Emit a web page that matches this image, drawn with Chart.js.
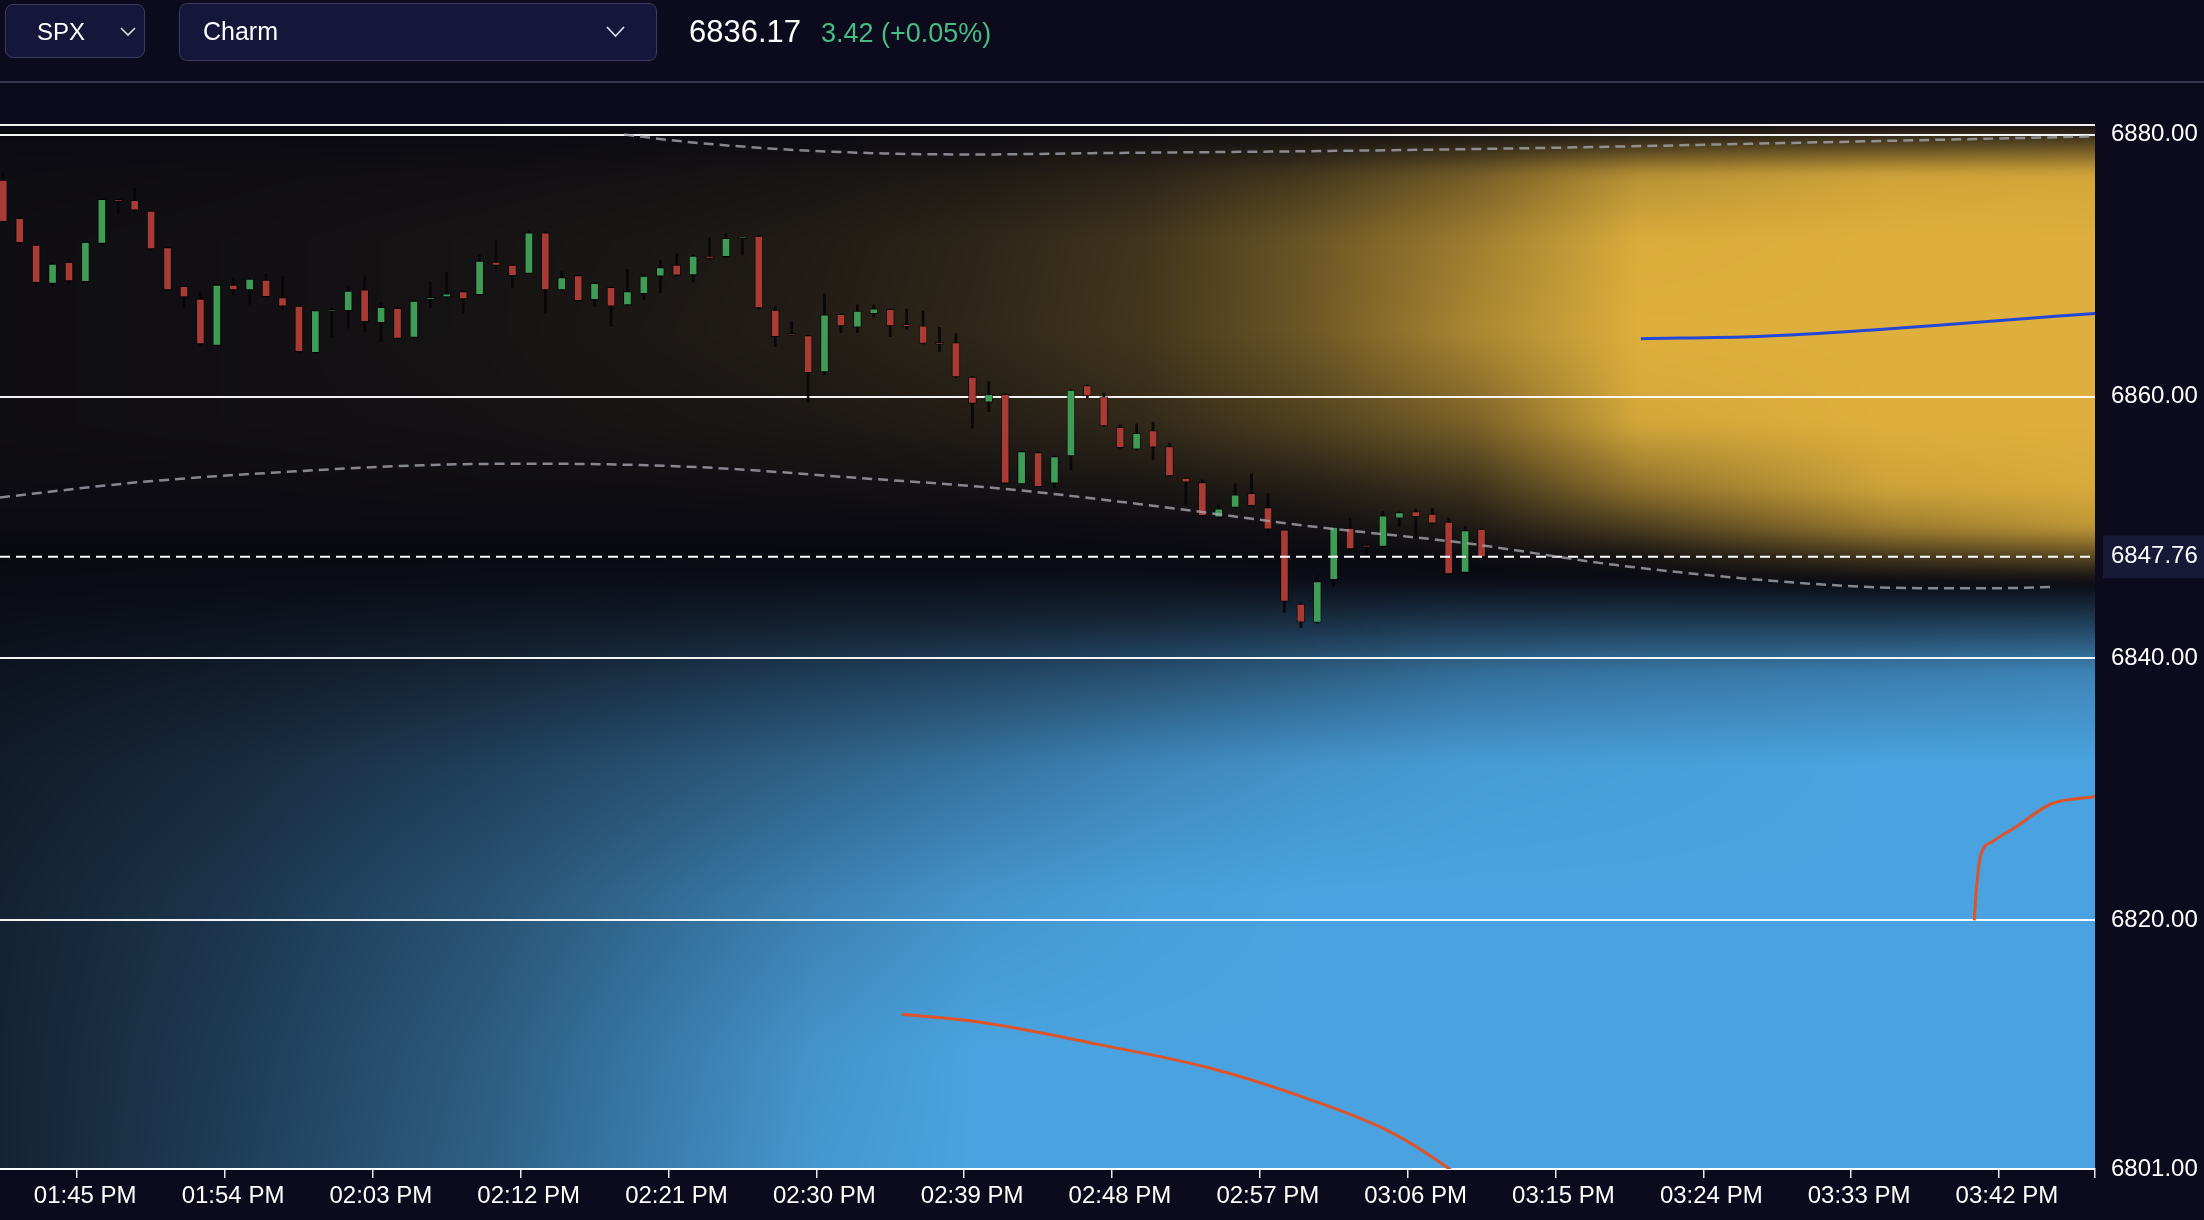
<!DOCTYPE html>
<html>
<head>
<meta charset="utf-8">
<title>SPX Charm</title>
<script src="https://cdn.jsdelivr.net/npm/chart.js@4.4.1/dist/chart.umd.min.js"></script>
<style>
  html, body { margin: 0; padding: 0; background: #0b0b1d; overflow: hidden; }
  body { width: 2204px; height: 1220px; position: relative; font-family: "Liberation Sans", Arial, sans-serif; color: #fff; }
  #chart { position: absolute; left: 0; top: 0; }
  .topbar { position: absolute; left: 0; top: 0; width: 2204px; height: 81px; border-bottom: 2px solid #343650; }
  .select { position: absolute; box-sizing: border-box; background: #15163a; border: 1.5px solid #3a3c5e; border-radius: 8px; }
  #sym { left: 5px; top: 4px; width: 140px; height: 54px; }
  #metric { left: 179px; top: 3px; width: 478px; height: 58px; }
  .txt { position: absolute; line-height: 1; white-space: nowrap; }
  svg.chev { position: absolute; }
</style>
</head>
<body>
<canvas id="chart" width="2204" height="1220"></canvas>

<div class="topbar">
  <div class="select" id="sym"></div>
  <div class="select" id="metric"></div>
  <span class="txt" style="left:37px; top:20px; font-size:24px;">SPX</span>
  <svg class="chev" style="left:119px; top:26px;" width="18" height="11"><polyline points="2,2 9,9 16,2" fill="none" stroke="#d9d9e3" stroke-width="1.6"/></svg>
  <span class="txt" style="left:203px; top:19px; font-size:25px;">Charm</span>
  <svg class="chev" style="left:605px; top:25px;" width="21" height="14"><polyline points="2,2 10.5,11 19,2" fill="none" stroke="#d9d9e3" stroke-width="1.8"/></svg>
  <span class="txt" style="left:689px; top:16px; font-size:31px;">6836.17</span>
  <span class="txt" style="left:821px; top:20px; font-size:27px; color:#47bd84;">3.42 (+0.05%)</span>
</div>

<script>
// -----------------------------
// DATA
// -----------------------------
const candleStart = 820; // 01:40 PM, minutes after midnight, one candle per minute

const opens = [
  6876.54, 6873.62, 6871.58, 6868.65, 6870.26, 6868.78, 6871.71, 6875.04, 6874.99, 6874.18,
  6871.38, 6868.43, 6867.46, 6863.92, 6868.53, 6868.15, 6868.91, 6867.56, 6866.92, 6863.36,
  6866.52, 6866.57, 6868.15, 6865.65, 6866.75, 6864.53, 6867.43, 6867.61, 6868.02, 6867.79,
  6870.28, 6870.05, 6869.42, 6872.52, 6868.15, 6869.24, 6867.41, 6868.35, 6867.00, 6867.86,
  6869.21, 6870.05, 6869.29, 6870.74, 6870.69, 6872.06, 6872.27, 6866.62, 6864.71, 6864.66,
  6861.89, 6866.29, 6865.30, 6866.34, 6866.67, 6865.53, 6865.40, 6864.15, 6864.13, 6861.50,
  6859.57, 6860.18, 6853.34, 6855.73, 6853.39, 6855.47, 6860.84, 6860.00, 6857.66, 6855.98,
  6857.41, 6856.19, 6853.77, 6853.44, 6850.79, 6851.53, 6852.62, 6851.53, 6849.83, 6844.15,
  6842.75, 6846.01, 6849.95, 6848.63, 6848.55, 6850.72, 6851.22, 6851.02, 6850.41, 6846.57,
  6849.88
];
const highs = [
  6877.13, 6873.70, 6871.62, 6870.20, 6870.51, 6871.82, 6875.10, 6875.10, 6875.91, 6874.22,
  6871.42, 6868.50, 6868.02, 6868.60, 6869.04, 6869.00, 6869.42, 6869.16, 6867.00, 6866.62,
  6866.75, 6868.45, 6869.24, 6867.18, 6866.80, 6867.35, 6868.73, 6869.47, 6868.10, 6870.82,
  6871.96, 6870.10, 6872.72, 6872.60, 6869.54, 6869.30, 6868.70, 6868.40, 6869.72, 6869.30,
  6870.43, 6870.89, 6870.80, 6872.14, 6872.42, 6872.17, 6872.30, 6866.87, 6865.73, 6864.70,
  6867.84, 6866.32, 6867.00, 6867.00, 6866.70, 6866.70, 6866.54, 6865.30, 6864.79, 6861.55,
  6861.15, 6860.22, 6855.86, 6855.78, 6855.46, 6860.56, 6860.89, 6860.26, 6857.84, 6857.92,
  6858.04, 6856.44, 6853.80, 6853.64, 6851.73, 6853.34, 6854.10, 6852.62, 6849.88, 6844.28,
  6846.39, 6850.08, 6850.72, 6848.68, 6851.22, 6851.20, 6851.40, 6851.48, 6850.72, 6850.08,
  6849.92
];
const lows = [
  6873.30, 6871.70, 6868.53, 6868.40, 6868.60, 6868.72, 6871.58, 6874.05, 6874.05, 6871.22,
  6868.10, 6866.80, 6863.87, 6863.85, 6867.77, 6867.05, 6867.60, 6866.62, 6863.36, 6863.30,
  6864.58, 6865.22, 6864.97, 6864.20, 6864.40, 6864.48, 6866.82, 6867.58, 6866.36, 6867.72,
  6869.80, 6868.35, 6869.38, 6866.41, 6868.10, 6867.30, 6866.87, 6865.35, 6866.95, 6867.38,
  6867.94, 6869.22, 6868.73, 6870.50, 6870.62, 6870.82, 6866.70, 6863.82, 6864.68, 6859.55,
  6861.66, 6864.89, 6864.89, 6866.11, 6864.58, 6865.14, 6864.02, 6863.44, 6861.45, 6857.59,
  6858.86, 6853.33, 6853.28, 6853.10, 6853.00, 6854.41, 6859.88, 6857.72, 6856.05, 6855.92,
  6855.17, 6853.90, 6851.73, 6850.86, 6850.64, 6851.48, 6851.62, 6849.62, 6843.52, 6842.37,
  6842.70, 6845.50, 6848.09, 6847.49, 6848.50, 6850.08, 6849.19, 6850.28, 6846.31, 6846.50,
  6847.70
];
const closes = [
  6873.36, 6871.76, 6868.71, 6870.13, 6868.83, 6871.78, 6875.07, 6874.91, 6874.25, 6871.28,
  6868.15, 6867.61, 6864.02, 6868.53, 6868.15, 6868.98, 6867.64, 6866.92, 6863.44, 6866.57,
  6866.59, 6868.07, 6865.73, 6866.82, 6864.45, 6867.30, 6867.59, 6867.86, 6867.46, 6870.36,
  6870.03, 6869.24, 6872.52, 6868.15, 6869.09, 6867.33, 6868.65, 6866.92, 6868.02, 6869.21,
  6869.85, 6869.27, 6870.74, 6870.56, 6872.09, 6872.11, 6866.77, 6864.58, 6864.69, 6861.83,
  6866.24, 6865.40, 6866.54, 6866.70, 6865.40, 6865.35, 6864.07, 6863.98, 6861.50, 6859.49,
  6860.18, 6853.39, 6855.80, 6853.13, 6855.42, 6860.51, 6860.05, 6857.76, 6856.11, 6857.20,
  6856.14, 6853.95, 6853.46, 6850.91, 6851.43, 6852.50, 6851.68, 6849.88, 6844.35, 6842.78,
  6845.88, 6850.03, 6848.37, 6848.50, 6850.89, 6851.15, 6850.84, 6850.33, 6846.47, 6849.77,
  6847.76
];

const lastPrice = 6847.76;

// overlay curves (time in minutes after midnight)
const upperBandTimes = [858.3, 861.5, 867.1, 874.0, 879.8, 886.8, 900.0, 914.4, 931.5, 947.9];
const upperBandVals  = [6880.03, 6879.54, 6878.96, 6878.58, 6878.50, 6878.60, 6878.75, 6879.00, 6879.44, 6879.88];

const midBandTimes = [820.3, 828.9, 837.4, 846.0, 852.8, 862.9, 872.2, 881.5, 890.9, 900.2, 909.5, 918.6, 925.6, 932.6, 937.2, 941.9, 945.4];
const midBandVals  = [6852.30, 6853.48, 6854.23, 6854.76, 6854.88, 6854.61, 6853.82, 6852.95, 6851.60, 6850.08, 6848.81, 6847.15, 6846.21, 6845.55, 6845.37, 6845.37, 6845.47];

const callWallTimes = [920.2, 927.3, 934.1, 940.9, 947.9];
const callWallVals  = [6864.43, 6864.59, 6865.07, 6865.71, 6866.36];

const putWallTimes = [875.2, 880.2, 887.0, 893.9, 899.9, 905.0, 908.4, 910.5];
const putWallVals  = [6812.82, 6812.17, 6810.56, 6808.73, 6806.37, 6803.80, 6801.13, 6799.00];

const putWall2Times = [940.5, 940.65, 940.9, 941.6, 943.1, 945.2, 947.9];
const putWall2Vals  = [6820.00, 6822.69, 6825.00, 6826.00, 6827.19, 6828.90, 6829.44];

// charm heatmap: columns = time, rows = price (positive gold, negative blue)
const heatTimes  = [820.3, 835, 850, 860, 870, 880, 890, 900, 910, 920, 935, 948];
const heatPrices = [6881, 6879.5, 6877, 6872, 6865, 6858, 6853, 6850, 6848, 6846, 6843, 6839, 6832, 6822, 6810, 6800];
const heatCharm = [
  [0, 0.01, 0.02, 0.03, 0.03, 0.03, 0.02, 0.01, 0, -0.01, -0.04, -0.07, -0.12, -0.16, -0.17, -0.17],
  [0, 0.01, 0.03, 0.04, 0.04, 0.04, 0.02, 0.01, 0, -0.02, -0.06, -0.12, -0.22, -0.29, -0.33, -0.35],
  [0, 0.01, 0.04, 0.06, 0.06, 0.05, 0.03, 0.01, 0, -0.03, -0.09, -0.19, -0.35, -0.47, -0.54, -0.57],
  [0, 0.02, 0.05, 0.08, 0.09, 0.07, 0.03, 0.01, 0, -0.03, -0.11, -0.25, -0.46, -0.62, -0.72, -0.75],
  [0, 0.02, 0.07, 0.11, 0.12, 0.09, 0.04, 0.01, 0, -0.04, -0.14, -0.32, -0.57, -0.77, -0.90, -0.93],
  [0, 0.03, 0.10, 0.17, 0.18, 0.12, 0.05, 0.01, 0, -0.04, -0.16, -0.38, -0.68, -0.90, -1, -1],
  [0, 0.05, 0.16, 0.26, 0.27, 0.19, 0.07, 0.02, 0, -0.04, -0.19, -0.45, -0.80, -0.97, -1, -1],
  [0, 0.08, 0.28, 0.46, 0.47, 0.33, 0.12, 0.04, 0.01, -0.03, -0.23, -0.54, -0.89, -1, -1, -1],
  [0, 0.14, 0.50, 0.70, 0.76, 0.53, 0.24, 0.10, 0.02, -0.02, -0.28, -0.65, -0.95, -1, -1, -1],
  [0, 0.22, 0.82, 0.98, 1, 0.95, 0.62, 0.30, 0.08, -0.02, -0.30, -0.70, -0.97, -1, -1, -1],
  [0, 0.30, 0.93, 1, 1, 1, 0.92, 0.68, 0.30, 0.01, -0.30, -0.75, -1, -1, -1, -1],
  [0, 0.35, 0.95, 1, 1, 1, 0.97, 0.85, 0.42, 0.02, -0.32, -0.80, -1, -1, -1, -1]
];

const xTickTimes = [825, 834, 843, 852, 861, 870, 879, 888, 897, 906, 915, 924, 933, 942];
const yTickValues = [6801, 6820, 6840, 6847.76, 6860, 6880];

const xMin = 820.3, xMax = 947.85;
const yMin = 6801, yMax = 6880.75;

// -----------------------------
// HELPERS
// -----------------------------
const GREEN = "#3f9c56";
const RED = "#a93b35";
const GOLD = [222, 175, 60];
const BLUE = [74, 163, 224];
const BASE = [9, 9, 17];

function fmtTime(m) {
  let h = Math.floor(m / 60);
  const mm = Math.round(m - h * 60);
  const ap = h >= 12 ? "PM" : "AM";
  h = h % 12 || 12;
  return String(h).padStart(2, "0") + ":" + String(mm).padStart(2, "0") + " " + ap;
}

function toPoints(xs, ys) {
  return xs.map((x, i) => ({ x, y: ys[i] }));
}

// find segment index + fraction in a monotonic array (either direction)
function locate(arr, v) {
  const n = arr.length;
  const asc = arr[n - 1] > arr[0];
  if (asc ? v <= arr[0] : v >= arr[0]) return [0, 0];
  if (asc ? v >= arr[n - 1] : v <= arr[n - 1]) return [n - 2, 1];
  for (let i = 0; i < n - 1; i++) {
    const a = arr[i], b = arr[i + 1];
    if ((v - a) * (v - b) <= 0) return [i, (v - a) / (b - a)];
  }
  return [n - 2, 1];
}

const candleTimes = opens.map((_, i) => candleStart + i + 0.5);
const bodies = candleTimes.map((t, i) => ({ x: t, y: [opens[i], closes[i]] }));
const wicks = candleTimes.map((t, i) => ({ x: t, y: [lows[i], highs[i]] }));
const candleColors = opens.map((o, i) => (closes[i] >= o ? GREEN : RED));

// -----------------------------
// HEATMAP PLUGIN
// -----------------------------
const charmHeatmap = {
  id: "charmHeatmap",
  beforeDraw(chart) {
    const { ctx, chartArea: a, scales } = chart;
    const xs = scales.x, ys = scales.y;
    const pad = 24;
    const w = Math.round(a.right - a.left) + pad * 2;
    const h = Math.round(a.bottom - a.top) + pad * 2;

    const off = document.createElement("canvas");
    off.width = w;
    off.height = h;
    const octx = off.getContext("2d");
    const img = octx.createImageData(w, h);
    const px = img.data;

    const colI = new Int32Array(w), colF = new Float32Array(w);
    for (let i = 0; i < w; i++) {
      const r = locate(heatTimes, xs.getValueForPixel(a.left - pad + i));
      colI[i] = r[0]; colF[i] = r[1];
    }
    const rowI = new Int32Array(h), rowF = new Float32Array(h);
    for (let j = 0; j < h; j++) {
      const r = locate(heatPrices, ys.getValueForPixel(a.top - pad + j));
      rowI[j] = r[0]; rowF[j] = r[1];
    }

    for (let j = 0; j < h; j++) {
      const ri = rowI[j], rf = rowF[j];
      for (let i = 0; i < w; i++) {
        const ci = colI[i], cf = colF[i];
        const c0 = heatCharm[ci], c1 = heatCharm[ci + 1];
        const top = c0[ri] + (c1[ri] - c0[ri]) * cf;
        const bot = c0[ri + 1] + (c1[ri + 1] - c0[ri + 1]) * cf;
        const v = top + (bot - top) * rf;
        const tgt = v >= 0 ? GOLD : BLUE;
        const k = Math.min(1, Math.abs(v));
        const p = (j * w + i) * 4;
        px[p] = BASE[0] + (tgt[0] - BASE[0]) * k;
        px[p + 1] = BASE[1] + (tgt[1] - BASE[1]) * k;
        px[p + 2] = BASE[2] + (tgt[2] - BASE[2]) * k;
        px[p + 3] = 255;
      }
    }
    octx.putImageData(img, 0, 0);

    ctx.save();
    ctx.beginPath();
    ctx.rect(a.left, a.top, a.right - a.left, a.bottom - a.top);
    ctx.clip();
    ctx.filter = "blur(6px)";
    ctx.drawImage(off, a.left - pad, a.top - pad);
    ctx.restore();
  },
};

// -----------------------------
// CHART
// -----------------------------
Chart.defaults.font.family = '"Liberation Sans", Arial, sans-serif';

const lineStyle = { type: "line", pointRadius: 0, cubicInterpolationMode: "monotone", clip: 0, order: 0 };

new Chart(document.getElementById("chart"), {
  type: "bar",
  data: {
    datasets: [
      {
        ...lineStyle,
        label: "upper",
        data: toPoints(upperBandTimes, upperBandVals),
        borderColor: "rgba(165,165,175,0.8)",
        borderWidth: 2.5,
        borderDash: [10, 6],
      },
      {
        ...lineStyle,
        label: "mid",
        data: toPoints(midBandTimes, midBandVals),
        borderColor: "rgba(165,165,175,0.8)",
        borderWidth: 2.5,
        borderDash: [10, 6],
      },
      {
        ...lineStyle,
        label: "last",
        data: toPoints([xMin, xMax], [lastPrice, lastPrice]),
        borderColor: "#ffffff",
        borderWidth: 2,
        borderDash: [10, 6],
      },
      {
        ...lineStyle,
        label: "call wall",
        data: toPoints(callWallTimes, callWallVals),
        borderColor: "#2347d8",
        borderWidth: 3,
      },
      {
        ...lineStyle,
        label: "put wall",
        data: toPoints(putWallTimes, putWallVals),
        borderColor: "#de5329",
        borderWidth: 3,
      },
      {
        ...lineStyle,
        label: "put wall 2",
        data: toPoints(putWall2Times, putWall2Vals),
        borderColor: "#de5329",
        borderWidth: 3,
      },
      {
        label: "body",
        data: bodies,
        backgroundColor: candleColors,
        borderColor: "rgba(0,0,0,0.6)",
        borderWidth: 1,
        borderSkipped: false,
        barThickness: 8,
        minBarLength: 2,
        grouped: false,
        order: 1,
      },
      {
        label: "wick",
        data: wicks,
        backgroundColor: "rgba(5,5,8,0.9)",
        barThickness: 2,
        grouped: false,
        order: 2,
      },
    ],
  },
  options: {
    responsive: false,
    devicePixelRatio: 1,
    animation: false,
    layout: { padding: { top: 125, left: 0, right: 0, bottom: 0 } },
    plugins: { legend: { display: false }, tooltip: { enabled: false } },
    scales: {
      x: {
        type: "linear",
        position: "bottom",
        offset: false,
        min: xMin,
        max: xMax,
        afterBuildTicks: (s) => {
          s.ticks = xTickTimes.concat([xMax]).map((v) => ({ value: v }));
        },
        afterFit: (s) => { s.height = 51; },
        border: { display: true, color: "#ffffff", width: 2 },
        grid: { offset: false, drawOnChartArea: false, drawTicks: true, tickLength: 9, color: "rgba(255,255,255,0.9)", lineWidth: 1.5 },
        ticks: {
          autoSkip: false,
          maxRotation: 0,
          color: "#ffffff",
          font: { size: 24 },
          padding: 4,
          labelOffset: 8,
          callback: (v) => (v === xMax ? "" : fmtTime(v)),
        },
      },
      y: {
        type: "linear",
        position: "right",
        min: yMin,
        max: yMax,
        afterBuildTicks: (s) => {
          s.ticks = yTickValues.concat([yMax]).map((v) => ({ value: v }));
        },
        afterFit: (s) => { s.width = 109; },
        border: { display: false },
        grid: {
          drawTicks: false,
          lineWidth: 2,
          color: (c) => (c.tick && c.tick.value === lastPrice ? "rgba(0,0,0,0)" : "rgba(255,255,255,0.95)"),
        },
        ticks: {
          autoSkip: false,
          color: "#ffffff",
          font: { size: 24 },
          padding: 16,
          callback: (v) => (v === yMax ? "" : v.toFixed(2)),
          showLabelBackdrop: (c) => c.tick && c.tick.value === lastPrice,
          backdropColor: "#171936",
          backdropPadding: { x: 8, y: 7 },
        },
      },
    },
  },
  plugins: [charmHeatmap],
});
</script>
</body>
</html>
